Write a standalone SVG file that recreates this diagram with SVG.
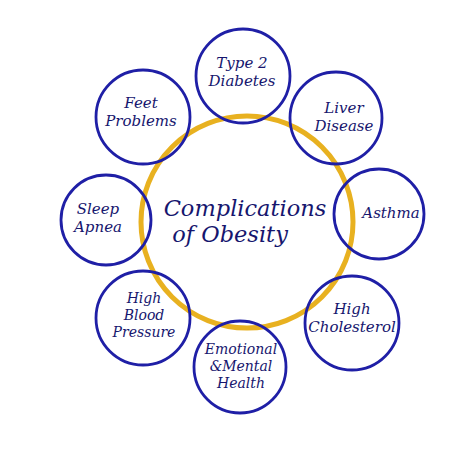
<svg xmlns="http://www.w3.org/2000/svg" width="474" height="450" viewBox="0 0 474 450">
<style>
.ring{fill:none;stroke:#1f1fa6;stroke-width:2.8}
.core{fill:none;stroke:#e8b120;stroke-width:5}
text{font-family:"DejaVu Serif","Liberation Serif",serif;font-style:italic;fill:#16166e;text-anchor:middle}
.s{font-size:15px}
.t{font-size:14px}
.b{font-size:22.5px}
</style>
<rect width="474" height="450" fill="#ffffff"/>
<g id="connectors"></g>
<g id="center"><circle class="core" cx="247" cy="222" r="106"/><text class="b" x="245" y="216">Complications</text><text class="b" x="230" y="242">of Obesity</text></g>
<g id="n1"><circle class="ring" cx="243" cy="76" r="47"/><text class="s" x="242" y="68">Type 2</text><text class="s" x="242" y="86">Diabetes</text></g>
<g id="n2"><circle class="ring" cx="336" cy="118" r="46"/><text class="s" x="344" y="113">Liver</text><text class="s" x="344" y="131">Disease</text></g>
<g id="n3"><circle class="ring" cx="379" cy="214" r="45"/><text class="s" x="391" y="218">Asthma</text></g>
<g id="n4"><circle class="ring" cx="352" cy="323" r="47"/><text class="s" x="352" y="314">High</text><text class="s" x="352" y="332">Cholesterol</text></g>
<g id="n5"><circle class="ring" cx="240" cy="367" r="46"/><text class="t" x="241" y="354">Emotional</text><text class="t" x="241" y="371">&amp;Mental</text><text class="t" x="241" y="388">Health</text></g>
<g id="n6"><circle class="ring" cx="143" cy="318" r="47"/><text class="t" x="144" y="303">High</text><text class="t" x="144" y="320">Blood</text><text class="t" x="144" y="337">Pressure</text></g>
<g id="n7"><circle class="ring" cx="106" cy="220" r="45"/><text class="s" x="98" y="214">Sleep</text><text class="s" x="98" y="232">Apnea</text></g>
<g id="n8"><circle class="ring" cx="143" cy="117" r="47"/><text class="s" x="141" y="108">Feet</text><text class="s" x="141" y="126">Problems</text></g>
</svg>
